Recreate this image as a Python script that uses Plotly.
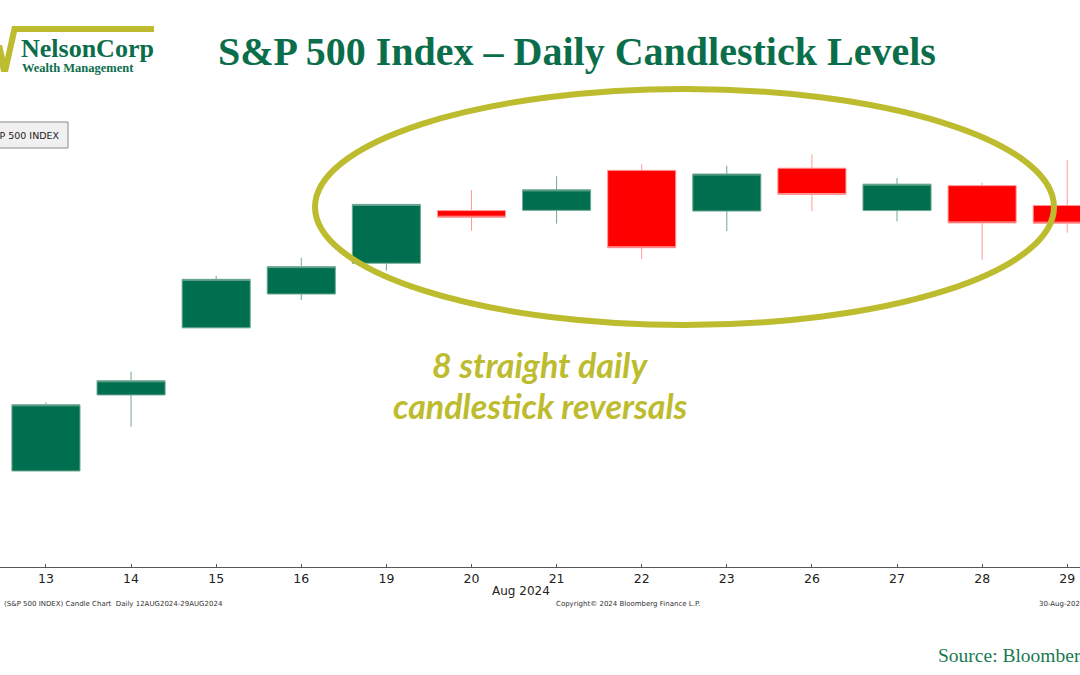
import plotly.graph_objects as go

# ---- data (S&P 500 daily OHLC, Aug 2024) ----
days = ["12", "13", "14", "15", "16", "19", "20", "21", "22", "23", "26", "27", "28", "29"]
open_ = [5351.88, 5376.98, 5442.94, 5501.13, 5530.50, 5557.23, 5602.88, 5603.09, 5637.77, 5602.46, 5639.66, 5602.89, 5624.51, 5607.30]
high = [5371.20, 5436.50, 5463.22, 5546.23, 5561.98, 5608.30, 5620.51, 5632.68, 5643.22, 5641.82, 5651.62, 5631.18, 5627.03, 5646.95]
low = [5324.37, 5376.98, 5415.37, 5501.13, 5525.17, 5550.74, 5585.50, 5591.57, 5560.95, 5585.16, 5602.34, 5593.48, 5560.20, 5583.71]
close = [5344.39, 5434.43, 5455.21, 5543.22, 5554.25, 5608.25, 5597.12, 5620.85, 5570.64, 5634.61, 5616.84, 5625.80, 5592.18, 5591.96]

W, H = 1080, 675
T, B = 100, 567  # plot area top / bottom in pixels


def px(x):
    return x / W


def py(y):
    return (B - y) / (B - T)


GREEN = "#006F4F"
RED = "#FF0000"
OLIVE = "#BDBB2E"
TITLE_GREEN = "#0B6E4B"

fig = go.Figure()
fig.add_trace(go.Candlestick(
    x=days, open=open_, high=high, low=low, close=close,
    increasing=dict(line=dict(color="#6FA893", width=1), fillcolor=GREEN),
    decreasing=dict(line=dict(color="#FF9A9A", width=1), fillcolor=RED),
    whiskerwidth=0,
    showlegend=False,
    hoverinfo="x+y",
))

annotations = []
shapes = []


def note(x, y, text, font, xanchor="center"):
    annotations.append(dict(x=px(x), y=py(y), xref="paper", yref="paper", showarrow=False,
                            xanchor=xanchor, yanchor="middle", text=text, font=font))


# Title
note(577, 51, "<b>S&P 500 Index – Daily Candlestick Levels</b>",
     dict(family="Liberation Serif", size=40, color=TITLE_GREEN))
# Logo
note(19, 48, "<b>NelsonCorp</b>", dict(family="Liberation Serif", size=26, color=TITLE_GREEN), "left")
note(20, 68, "<b>Wealth Management</b>", dict(family="Liberation Serif", size=12.5, color=TITLE_GREEN), "left")
# Logo check shape
shapes.append(dict(type="path", xref="paper", yref="paper",
                   path=f"M {px(-5)} {py(45)} L {px(2)} {py(45)} L {px(5)} {py(58)} L {px(12)} {py(26)} "
                        f"L {px(154)} {py(26)} L {px(154)} {py(32)} L {px(17)} {py(32)} L {px(8)} {py(72)} "
                        f"L {px(1)} {py(72)} L {px(-2)} {py(55)} L {px(-5)} {py(55)} Z",
                   fillcolor=OLIVE, line=dict(width=0), layer="above"))

# Legend-like box
shapes.append(dict(type="rect", xref="paper", yref="paper",
                   x0=px(-10), x1=px(68), y0=py(148), y1=py(122),
                   fillcolor="#F0F0F0", line=dict(color="#8A8A8A", width=1)))
note(62, 135, "S&P 500 INDEX", dict(family="DejaVu Sans", size=9.5, color="#222222"), "right")

# Ellipse highlight
shapes.append(dict(type="circle", xref="paper", yref="paper",
                   x0=px(315), x1=px(1054), y0=py(325), y1=py(89),
                   line=dict(color=OLIVE, width=6), fillcolor="rgba(0,0,0,0)", layer="above"))

# Callout text
note(540, 364, "<b><i>8 straight daily</i></b>", dict(family="Lato", size=34, color=OLIVE))
note(540, 405, "<b><i>candlestick reversals</i></b>", dict(family="Lato", size=34, color=OLIVE))

# Axis subtitle and footer
note(521, 591, "Aug 2024", dict(family="DejaVu Sans", size=12, color="#222222"))
note(2, 604, "(S&P 500 INDEX) Candle Chart  Daily 12AUG2024-29AUG2024",
     dict(family="DejaVu Sans", size=7, color="#333333"), "left")
note(628, 604, "Copyright© 2024 Bloomberg Finance L.P.",
     dict(family="DejaVu Sans", size=7, color="#333333"))
note(1037, 604, "30-Aug-2024 14:52:07", dict(family="DejaVu Sans", size=7, color="#333333"), "left")
note(936, 655, "Source: Bloomberg", dict(family="Liberation Serif", size=19.5, color="#1A7A52"), "left")

fig.update_layout(
    width=W, height=H,
    margin=dict(l=0, r=0, t=T, b=H - B, pad=0),
    paper_bgcolor="white", plot_bgcolor="white",
    xaxis=dict(type="category", range=[0.46, 13.15], rangeslider=dict(visible=False),
               showgrid=False, zeroline=False, showline=True, linecolor="#555555", linewidth=1,
               ticks="inside", ticklen=3, tickcolor="#555555",
               tickfont=dict(family="DejaVu Sans", size=12.5, color="#222222"), fixedrange=True),
    yaxis=dict(range=[5293.7, 5698.8], visible=False, showgrid=False, fixedrange=True),
    boxgap=0.2,
    boxgroupgap=0,
    annotations=annotations,
    shapes=shapes,
)

fig.write_html("out.html",
               config={"displayModeBar": False},
               post_script="document.body.style.margin='0';document.body.style.overflow='hidden';")
